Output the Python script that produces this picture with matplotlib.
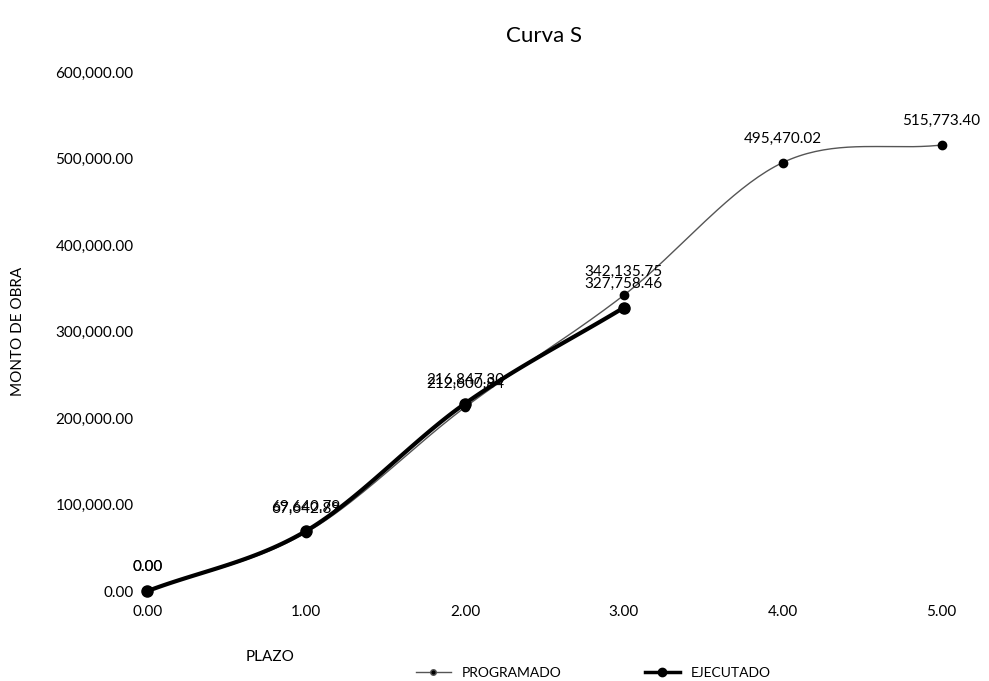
import numpy as np
import matplotlib.pyplot as plt
from matplotlib.ticker import FuncFormatter

plt.rcParams['font.family'] = ['Lato', 'DejaVu Sans']

plazo_prog = [0, 1, 2, 3, 4, 5]
programado = [0.00, 67642.89, 212600.84, 342135.75, 495470.02, 515773.40]
plazo_ejec = [0, 1, 2, 3]
ejecutado = [0.00, 69640.79, 216847.30, 327758.46]


def smooth(x, y, n=40):
    # catmull-rom style smoothing like excel "smoothed line"
    x = np.asarray(x, float)
    y = np.asarray(y, float)
    px = np.concatenate([[2 * x[0] - x[1]], x, [2 * x[-1] - x[-2]]])
    py = np.concatenate([[2 * y[0] - y[1]], y, [2 * y[-1] - y[-2]]])
    xs, ys = [], []
    t = np.linspace(0, 1, n)
    for i in range(1, len(px) - 2):
        for p, out in ((px, xs), (py, ys)):
            p0, p1, p2, p3 = p[i - 1], p[i], p[i + 1], p[i + 2]
            c1 = p1 + (p2 - p0) / 6
            c2 = p2 - (p3 - p1) / 6
            out.extend((1 - t) ** 3 * p1 + 3 * (1 - t) ** 2 * t * c1
                       + 3 * (1 - t) * t ** 2 * c2 + t ** 3 * p2)
    return np.array(xs), np.array(ys)


fig = plt.figure(figsize=(9.89, 6.81), dpi=100)
ax = fig.add_axes([0.149, 0.132, 0.803, 0.762])

sx, sy = smooth(plazo_prog, programado)
ax.plot(sx, sy, color='#555555', lw=1.0, clip_on=False)
ax.plot(plazo_prog, programado, 'o', color='black', ms=6, clip_on=False)
ex, ey = smooth(plazo_ejec, ejecutado)
ax.plot(ex, ey, color='black', lw=3.0, clip_on=False)
ax.plot(plazo_ejec, ejecutado, 'o', color='black', ms=8, clip_on=False)

for xv, yv in zip(plazo_prog, programado):
    ax.annotate(f'{yv:,.2f}', (xv, yv), xytext=(0, 12), textcoords='offset points',
                ha='center', va='bottom', fontsize=11)
for xv, yv in zip(plazo_ejec, ejecutado):
    ax.annotate(f'{yv:,.2f}', (xv, yv), xytext=(0, 12), textcoords='offset points',
                ha='center', va='bottom', fontsize=11)

ax.set_xlim(0, 5)
ax.set_ylim(0, 600000)
ax.set_xticks([0, 1, 2, 3, 4, 5])
ax.set_yticks(np.arange(0, 600001, 100000))
ax.xaxis.set_major_formatter(FuncFormatter(lambda v, p: f'{v:.2f}'))
ax.yaxis.set_major_formatter(FuncFormatter(lambda v, p: f'{v:,.2f}'))
ax.tick_params(length=0, labelsize=11, pad=10)
for s in ax.spines.values():
    s.set_visible(False)

ax.set_title('Curva S', fontsize=16, pad=22)
ax.set_ylabel('MONTO DE OBRA', fontsize=11, labelpad=22)
fig.text(0.273, 0.035, 'PLAZO', fontsize=11, ha='center', va='center')

from matplotlib.lines import Line2D
handles = [Line2D([], [], color='#555555', lw=1, marker='o', ms=4, markerfacecolor='black'),
           Line2D([], [], color='black', lw=2.5, marker='o', ms=6)]
fig.legend(handles, ['PROGRAMADO', 'EJECUTADO'], loc='center', bbox_to_anchor=(0.6, 0.012),
           ncol=2, frameon=False, fontsize=10, columnspacing=6, handlelength=2.5)

fig.savefig('out.png', dpi=100)
